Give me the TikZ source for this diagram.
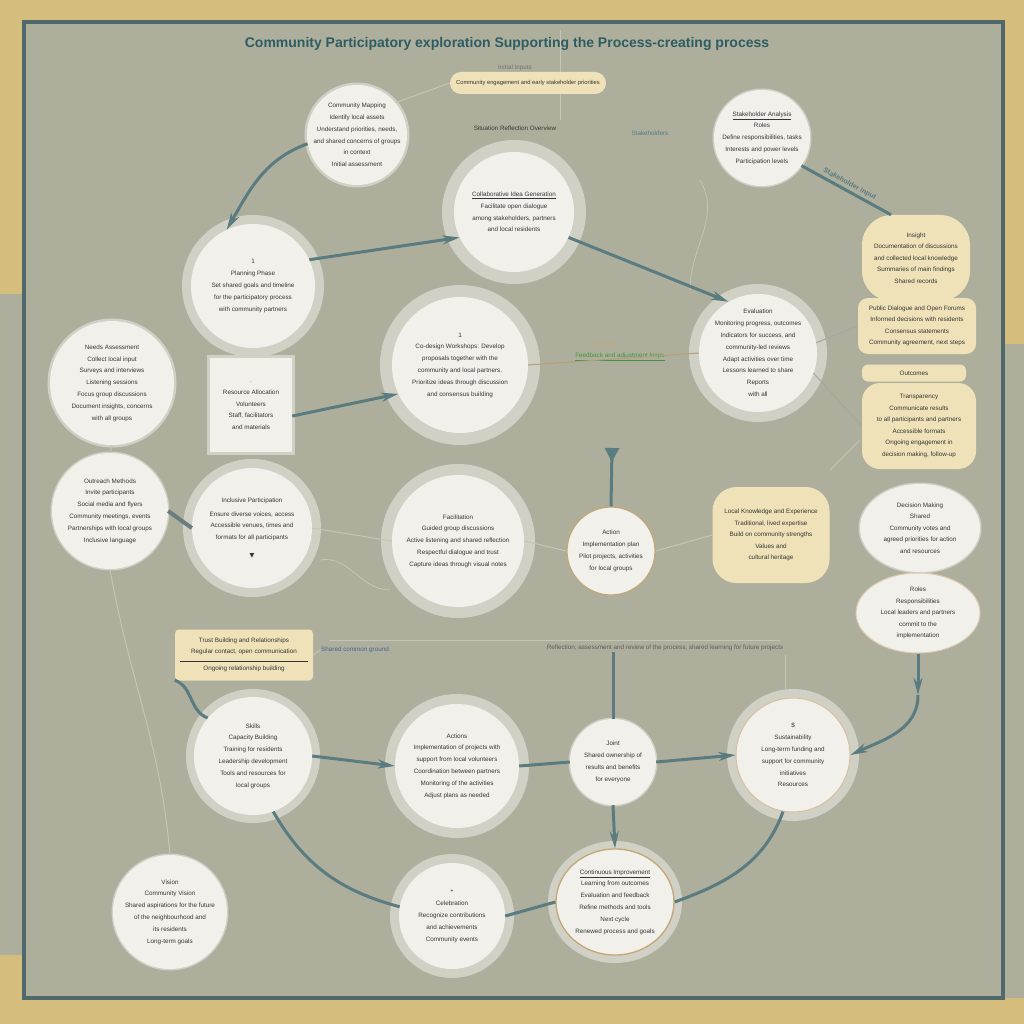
\documentclass[tikz,border=0pt]{standalone}
\usepackage{fontspec}
\setmainfont{Liberation Sans}
\newfontfamily\symfont{DejaVu Sans}
\usetikzlibrary{arrows.meta,shapes.geometric}
\definecolor{mustard}{HTML}{D5BE7D}
\definecolor{sage}{HTML}{ADAF9C}
\definecolor{framec}{HTML}{4E686C}
\definecolor{bub}{HTML}{F1F0EB}
\definecolor{haloc}{HTML}{D0D0C5}
\definecolor{cream}{HTML}{EFE2B9}
\definecolor{tealc}{HTML}{5A7B80}
\definecolor{ink}{HTML}{353533}
\definecolor{tanc}{HTML}{C4A676}
\definecolor{titlec}{HTML}{2E5C63}
\definecolor{faint}{HTML}{C4C5B6}
\newcommand\bubnode[5]{%
  \node[bubsh,#1,minimum size=#4] (#2) at #3 {};
  \node[btext] (#2t) at (#2) {#5};}
\begin{document}
\begin{tikzpicture}[x=1pt,y=-1pt,
  bubsh/.style={circle,fill=bub,inner sep=0pt},
  haloring/.style={preaction={draw=haloc,line width=#1}},
  tanring/.style={draw=tanc,line width=1.2pt},
  btext/.style={align=center,text=ink,font=\fontsize{6.3}{11.8}\selectfont,inner sep=0pt},
  creambox/.style={fill=cream,rounded corners=14pt,align=center,text=ink,font=\fontsize{6.3}{11.5}\selectfont,inner sep=2pt},
  ellbub/.style={ellipse,fill=bub,inner sep=0pt,align=center,text=ink,font=\fontsize{6.3}{11.5}\selectfont},
  conn/.style={draw=tealc,line width=3pt},
  tip/.style={-{Stealth[length=17pt,width=9pt]}},
  thinln/.style={draw=#1,line width=1pt},
  lbl/.style={font=\fontsize{6.3}{8}\selectfont,inner sep=1pt}
]
\useasboundingbox (0,0) rectangle (1024,1024);
% background
\fill[mustard] (0,0) rectangle (1024,1024);
\fill[sage] (0,294) rectangle (30,955);
\fill[sage] (1000,344) rectangle (1024,998);
\fill[sage] (24,22) rectangle (1003,998);
\draw[framec,line width=4pt] (24,22) rectangle (1003,998);
% faint decorative lines
\draw[faint,line width=0.8pt] (330,640) -- (780,640);
\draw[faint,line width=0.8pt] (560,30) -- (560,120);
\draw[faint,line width=0.8pt] (700,180) to[out=-60,in=90] (690,290);
\draw[faint,line width=0.8pt] (320,560) to[out=10,in=180] (390,590);
\draw[faint,line width=0.8pt] (860,440) -- (830,470);
\draw[faint,line width=0.8pt] (785,655) -- (785,700);

% title
\node[font=\bfseries\fontsize{14}{15}\selectfont,text=titlec] (title) at (507,44) {Community Participatory exploration Supporting the Process-creating process};

% top pill
\node[lbl,text=gray!90!black] (inlbl) at (515,68) {Initial Inputs};
\node[fill=cream,rounded corners=11pt,minimum width=156pt,minimum height=22pt,font=\fontsize{5.8}{8}\selectfont,text=ink] (pill) at (528,83) {Community engagement and early stakeholder priorities};

% bubbles
\bubnode{haloring=5pt}{A}{(357,135)}{100pt}{Community Mapping\\Identify local assets\\Understand priorities, needs,\\and shared concerns of groups\\in context\\Initial assessment}
\node[lbl,text=ink] (Blbl) at (515,128) {Situation Reflection Overview};
\bubnode{haloring=24pt}{B}{(514,212)}{120pt}{\underline{Collaborative Idea Generation}\\Facilitate open dialogue\\among stakeholders, partners\\and local residents}
\bubnode{haloring=3pt}{C}{(762,138)}{96pt}{\underline{Stakeholder Analysis}\\Roles\\Define responsibilities, tasks\\Interests and power levels\\Participation levels}
\node[lbl,text=tealc] (Clbl) at (650,133) {Stakeholders};

\bubnode{haloring=18pt}{D}{(253,286)}{124pt}{1\\Planning Phase\\Set shared goals and timeline\\for the participatory process\\with community partners}
\bubnode{haloring=5pt}{E}{(112,383)}{124pt}{Needs Assessment\\Collect local input\\Surveys and interviews\\Listening sessions\\Focus group discussions\\Document insights, concerns\\with all groups}
\node[fill=bub,minimum width=82pt,minimum height=94pt,align=center,text=ink,font=\fontsize{6.3}{11.5}\selectfont,preaction={draw=haloc,line width=6pt}] (F) at (251,405) {$\cdot$\\Resource Allocation\\Volunteers\\Staff, facilitators\\and materials};

\bubnode{haloring=24pt}{G}{(460,365)}{136pt}{1\\Co-design Workshops: Develop\\proposals together with the\\community and local partners.\\Prioritize ideas through discussion\\and consensus building}
\node[lbl,text=tanc] (Glbl1) at (605,343) {Iteration};
\node[lbl,text=green!45!black!75] (Glbl2) at (620,357) {\underline{Feedback and adjustment loops}};
\bubnode{haloring=20pt}{H}{(758,353)}{118pt}{Evaluation\\Monitoring progress, outcomes\\Indicators for success, and\\community-led reviews\\Adapt activities over time\\Lessons learned to share\\Reports\\with all}

% right cream stack
\node[creambox,minimum width=108pt,minimum height=86pt,rounded corners=30pt] (I1) at (916,258) {Insight\\Documentation of discussions\\and collected local knowledge\\Summaries of main findings\\Shared records};
\node[creambox,minimum width=118pt,minimum height=56pt,rounded corners=10pt] (I2) at (917,326) {Public Dialogue and Open Forums\\Informed decisions with residents\\Consensus statements\\Community agreement, next steps};
\node[creambox,minimum width=104pt,minimum height=17pt,rounded corners=6pt,inner sep=0pt] (I3) at (914,373) {Outcomes};
\node[creambox,minimum width=114pt,minimum height=86pt,rounded corners=18pt] (I4) at (919,426) {Transparency\\Communicate results\\to all participants and partners\\Accessible formats\\Ongoing engagement in\\decision making, follow-up};

% middle row
\bubnode{haloring=3pt}{J}{(110,511)}{116pt}{Outreach Methods\\Invite participants\\Social media and flyers\\Community meetings, events\\Partnerships with local groups\\Inclusive language}
\bubnode{haloring=18pt}{K}{(252,528)}{120pt}{Inclusive Participation\\[2pt]Ensure diverse voices, access\\Accessible venues, times and\\formats for all participants\\[6pt]{\symfont ▼}}
\bubnode{haloring=22pt}{L}{(458,541)}{132pt}{Facilitation\\Guided group discussions\\Active listening and shared reflection\\Respectful dialogue and trust\\Capture ideas through visual notes}
\bubnode{tanring}{M}{(611,551)}{88pt}{Action\\Implementation plan\\Pilot projects, activities\\for local groups}
\node[creambox,minimum width=117pt,minimum height=96pt,rounded corners=24pt] (N) at (771,535) {Local Knowledge and Experience\\Traditional, lived expertise\\Build on community strengths\\Values and\\cultural heritage};
\node[ellbub,minimum width=120pt,minimum height=88pt,preaction={draw=haloc,line width=3pt}] (O) at (920,528) {Decision Making\\Shared\\Community votes and\\agreed priorities for action\\and resources};
\node[ellbub,minimum width=124pt,minimum height=80pt,draw=tanc!60,line width=1pt] (P) at (918,613) {Roles\\Responsibilities\\Local leaders and partners\\commit to the\\implementation};

% lower labels
\node[creambox,minimum width=138pt,minimum height=51pt,rounded corners=4pt] (Q) at (244,655) {Trust Building and Relationships\\Regular contact, open communication\\[-4pt]\rule{128pt}{0.4pt}\\[-2pt]Ongoing relationship building};
\node[lbl,text=tealc!80!blue] (R) at (355,650) {Shared common ground};
\node[lbl,text=ink!80] (S) at (665,648) {Reflection, assessment and review of the process, shared learning for future projects};

% lower bubbles
\bubnode{haloring=16pt}{T}{(253,756)}{118pt}{Skills\\Capacity Building\\Training for residents\\Leadership development\\Tools and resources for\\local groups}
\bubnode{haloring=20pt}{U}{(457,766)}{124pt}{Actions\\Implementation of projects with\\support from local volunteers\\Coordination between partners\\Monitoring of the activities\\Adjust plans as needed}
\bubnode{haloring=3pt}{V}{(613,762)}{86pt}{Joint\\Shared ownership of\\results and benefits\\for everyone}
\bubnode{haloring=18pt,draw=tanc!70,line width=1pt}{W}{(793,755)}{114pt}{\$\\Sustainability\\Long-term funding and\\support for community\\initiatives\\Resources}
\bubnode{haloring=3pt}{X}{(170,912)}{114pt}{Vision\\Community Vision\\Shared aspirations for the future\\of the neighbourhood and\\its residents\\Long-term goals}
\bubnode{haloring=18pt}{Y}{(452,916)}{106pt}{$\ast$\\[2pt]Celebration\\Recognize contributions\\and achievements\\Community events}
\node[ellbub,minimum width=118pt,minimum height=106pt,draw=tanc,line width=1.3pt,preaction={draw=haloc,line width=16pt}] (Z) at (615,902) {};
\node[btext] (Zt) at (Z) {\underline{Continuous Improvement}\\Learning from outcomes\\Evaluation and feedback\\Refine methods and tools\\Next cycle\\Renewed process and goals};

% connectors
\draw[conn,tip] (A.190) to[out=200,in=60] (D.115);
\draw[conn,tip] (D.25) -- (B.205);
\draw[conn,tip] (B.-25) -- (H.120);
\draw[thinln=faint] (A.40) -- (pill.west);
\path[conn] (C.-35) -- node[sloped,above=1pt,font=\bfseries\fontsize{7}{8}\selectfont,text=tealc,inner sep=1pt] (Cedge) {Stakeholder input} (I1.120);
\draw[conn,tip] (F.-15) -- (G.205);
\coordinate (mtop) at (612,448);
\draw[conn,{Triangle[reversed,length=14pt,width=14pt]}-] (mtop) -- (M.north);
\draw[thinln=tanc!80!gray] (G.east) -- (H.west);
\draw[thinln=gray!70] (H.10) -- (I2.west);
\draw[thinln=gray!70] (H.-20) -- (I4.west);
\draw[thinln=faint] (E.south) -- (J.north);
\draw[draw=tealc!60!gray,line width=4pt] (J.east) -- (K.west);
\draw[thinln=faint] (K.east) -- (L.west);
\draw[thinln=faint] (L.east) -- (M.west);
\draw[thinln=faint] (M.east) -- (N.west);
\draw[thinln=faint] (Q.east) -- (R.west);
\draw[thinln=faint] (J.south) to[out=-80,in=95] (X.north);
\coordinate (pbend) at (918,695);
\draw[conn,tip] (P.south) -- (pbend);
\draw[conn,tip] (pbend) to[out=-90,in=25] (W.east);
\draw[conn,tip] (T.east) -- (U.west);
\draw[conn] (U.east) -- (V.west);
\draw[conn,tip] (V.east) -- (W.west);
\draw[conn] (S.south -| V.north) -- (V.north);
\draw[conn,tip] (V.south) -- (Z.north);
\draw[conn] (Y.east) -- (Z.west);
\draw[conn] (T.-70) to[out=-60,in=165] (Y.170);
\draw[conn] (Z.east) to[out=20,in=-110] (W.-100);
\draw[conn] (Q.200) to[out=-20,in=160] (T.140);
\end{tikzpicture}
\end{document}
